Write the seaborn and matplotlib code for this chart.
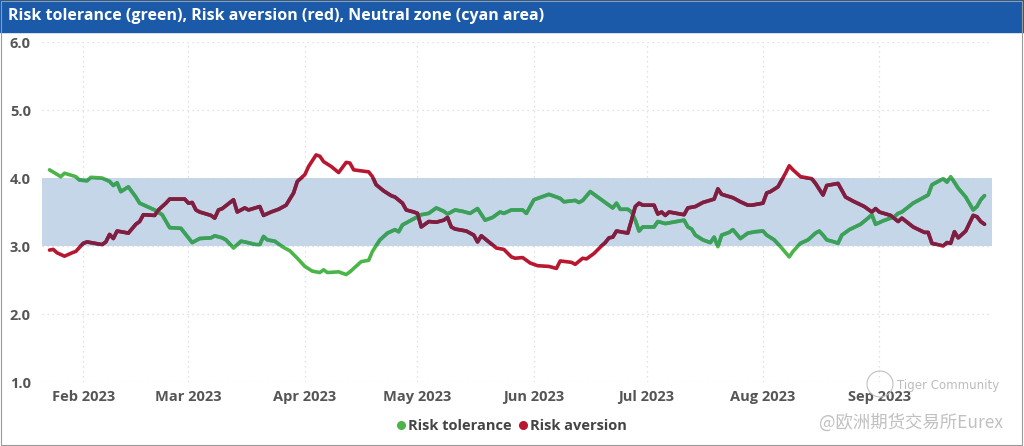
import pandas as pd
import matplotlib.pyplot as plt
import matplotlib.dates as mdates
from matplotlib.patches import Rectangle, Ellipse
from matplotlib.lines import Line2D
import seaborn as sns

# -----------------------------
# Data
# -----------------------------
tolerance_dates = [
    "01-23", "01-26", "01-27", "01-30", "01-31", "02-02", "02-03", "02-06", "02-08", "02-09",
    "02-10", "02-11", "02-13", "02-15", "02-16", "02-18", "02-20", "02-22", "02-24", "02-27",
    "02-28", "03-02", "03-04", "03-07", "03-08", "03-10", "03-11", "03-13", "03-15", "03-16",
    "03-19", "03-20", "03-21", "03-22", "03-24", "03-26", "03-28", "03-30", "04-01", "04-03",
    "04-05", "04-06", "04-07", "04-10", "04-12", "04-13", "04-15", "04-16", "04-18", "04-19",
    "04-21", "04-23", "04-25", "04-26", "04-27", "04-29", "04-30", "05-02", "05-04", "05-06",
    "05-08", "05-09", "05-11", "05-13", "05-15", "05-17", "05-19", "05-21", "05-23", "05-24",
    "05-26", "05-29", "05-30", "06-01", "06-02", "06-05", "06-08", "06-09", "06-12", "06-13",
    "06-14", "06-16", "06-18", "06-20", "06-22", "06-23", "06-24", "06-26", "06-27", "06-28",
    "06-29", "06-30", "07-03", "07-04", "07-06", "07-08", "07-11", "07-12", "07-13", "07-14",
    "07-16", "07-18", "07-19", "07-20", "07-21", "07-23", "07-24", "07-26", "07-28", "07-30",
    "08-01", "08-02", "08-04", "08-06", "08-08", "08-09", "08-11", "08-13", "08-15", "08-16",
    "08-17", "08-18", "08-20", "08-21", "08-22", "08-24", "08-27", "08-29", "08-30", "08-31",
    "09-02", "09-05", "09-06", "09-07", "09-10", "09-13", "09-14", "09-15", "09-18", "09-19",
    "09-20", "09-22", "09-24", "09-26", "09-27", "09-28", "09-29",
]
tolerance_values = [
    4.12, 4.02, 4.07, 4.02, 3.97, 3.96, 4.01, 4.00, 3.95, 3.89,
    3.93, 3.80, 3.87, 3.72, 3.63, 3.58, 3.53, 3.46, 3.27, 3.26,
    3.19, 3.05, 3.11, 3.12, 3.15, 3.12, 3.09, 2.97, 3.07, 3.06,
    3.02, 3.02, 3.14, 3.09, 3.07, 2.99, 2.93, 2.82, 2.70, 2.63,
    2.61, 2.65, 2.61, 2.62, 2.58, 2.62, 2.72, 2.77, 2.79, 2.92,
    3.09, 3.19, 3.24, 3.21, 3.31, 3.37, 3.40, 3.46, 3.48, 3.56,
    3.51, 3.47, 3.53, 3.51, 3.48, 3.55, 3.38, 3.42, 3.50, 3.48,
    3.53, 3.53, 3.48, 3.68, 3.70, 3.76, 3.70, 3.65, 3.67, 3.64,
    3.67, 3.80, 3.72, 3.64, 3.56, 3.63, 3.54, 3.54, 3.50, 3.38,
    3.22, 3.28, 3.28, 3.36, 3.33, 3.35, 3.38, 3.28, 3.25, 3.16,
    3.09, 3.05, 3.13, 2.99, 3.16, 3.20, 3.24, 3.11, 3.19, 3.21,
    3.22, 3.16, 3.09, 2.97, 2.84, 2.92, 3.04, 3.09, 3.19, 3.22,
    3.16, 3.09, 3.06, 3.04, 3.16, 3.24, 3.32, 3.41, 3.46, 3.32,
    3.37, 3.43, 3.48, 3.50, 3.63, 3.72, 3.75, 3.90, 3.99, 3.94,
    4.02, 3.85, 3.72, 3.53, 3.58, 3.68, 3.74,
]

aversion_dates = [
    "01-23", "01-24", "01-25", "01-27", "01-29", "01-30", "02-01", "02-02", "02-06", "02-07",
    "02-08", "02-09", "02-10", "02-13", "02-15", "02-16", "02-17", "02-20", "02-21", "02-23",
    "02-24", "02-28", "03-01", "03-02", "03-03", "03-04", "03-07", "03-08", "03-09", "03-10",
    "03-13", "03-14", "03-16", "03-17", "03-20", "03-21", "03-23", "03-25", "03-27", "03-29",
    "03-30", "04-01", "04-02", "04-04", "04-05", "04-06", "04-08", "04-10", "04-12", "04-13",
    "04-14", "04-18", "04-19", "04-20", "04-22", "04-24", "04-25", "04-27", "04-28", "04-30",
    "05-01", "05-02", "05-04", "05-06", "05-08", "05-09", "05-10", "05-11", "05-14", "05-16",
    "05-17", "05-18", "05-20", "05-22", "05-24", "05-26", "05-27", "05-29", "05-31", "06-02",
    "06-05", "06-07", "06-08", "06-11", "06-12", "06-14", "06-15", "06-17", "06-19", "06-20",
    "06-21", "06-22", "06-23", "06-25", "06-26", "06-27", "06-28", "06-29", "06-30", "07-03",
    "07-04", "07-05", "07-06", "07-07", "07-09", "07-11", "07-12", "07-14", "07-16", "07-19",
    "07-20", "07-21", "07-24", "07-26", "07-28", "07-29", "08-01", "08-02", "08-03", "08-05",
    "08-06", "08-07", "08-08", "08-09", "08-11", "08-14", "08-15", "08-17", "08-18", "08-21",
    "08-23", "08-25", "08-28", "08-30", "08-31", "09-01", "09-04", "09-06", "09-07", "09-10",
    "09-13", "09-14", "09-15", "09-18", "09-19", "09-20", "09-21", "09-22", "09-24", "09-26",
    "09-27", "09-28", "09-29",
]
aversion_values = [
    2.94, 2.95, 2.90, 2.85, 2.90, 2.92, 3.04, 3.06, 3.02, 3.06,
    3.17, 3.11, 3.22, 3.19, 3.32, 3.36, 3.46, 3.45, 3.53, 3.63,
    3.69, 3.69, 3.63, 3.64, 3.53, 3.50, 3.45, 3.41, 3.53, 3.55,
    3.68, 3.50, 3.56, 3.53, 3.58, 3.45, 3.50, 3.54, 3.60, 3.78,
    3.95, 4.05, 4.17, 4.34, 4.32, 4.24, 4.17, 4.08, 4.23, 4.22,
    4.12, 4.09, 4.02, 3.90, 3.81, 3.74, 3.72, 3.63, 3.53, 3.50,
    3.48, 3.28, 3.36, 3.35, 3.38, 3.42, 3.28, 3.25, 3.22, 3.16,
    3.06, 3.15, 3.06, 2.97, 2.95, 2.84, 2.82, 2.83, 2.75, 2.71,
    2.70, 2.67, 2.78, 2.76, 2.73, 2.82, 2.81, 2.89, 3.00, 3.05,
    3.12, 3.13, 3.22, 3.20, 3.19, 3.38, 3.58, 3.63, 3.60, 3.60,
    3.47, 3.50, 3.45, 3.50, 3.48, 3.46, 3.56, 3.58, 3.64, 3.69,
    3.84, 3.76, 3.71, 3.65, 3.60, 3.60, 3.63, 3.78, 3.80, 3.87,
    3.97, 4.07, 4.18, 4.12, 4.02, 3.99, 3.92, 3.75, 3.89, 3.92,
    3.72, 3.66, 3.58, 3.50, 3.55, 3.50, 3.45, 3.36, 3.41, 3.28,
    3.20, 3.20, 3.04, 3.00, 3.05, 3.04, 3.21, 3.12, 3.22, 3.45,
    3.43, 3.36, 3.32,
]

series_names = ["Risk tolerance", "Risk aversion"]
neutral_low, neutral_high = 3.0, 4.0
y_ticks = [1.0, 2.0, 3.0, 4.0, 5.0, 6.0]
title_text = "Risk tolerance (green), Risk aversion (red), Neutral zone (cyan area)"

# colours: normal, and the darker shade where the line passes the neutral zone
colors_out = {"Risk tolerance": "#4cb54a", "Risk aversion": "#b8172f"}
colors_in = {"Risk tolerance": "#3c9f5c", "Risk aversion": "#7c1f42"}
band_color = "#c4d6e8"

df = pd.concat([
    pd.DataFrame({"date": pd.to_datetime(["2023-" + d for d in tolerance_dates]),
                  "value": tolerance_values, "series": series_names[0]}),
    pd.DataFrame({"date": pd.to_datetime(["2023-" + d for d in aversion_dates]),
                  "value": aversion_values, "series": series_names[1]}),
])

# -----------------------------
# Plot
# -----------------------------
sns.set_theme(style="white")
plt.rcParams["font.family"] = ["Open Sans", "DejaVu Sans"]

W, H = 1024, 446
fig = plt.figure(figsize=(W / 100, H / 100), dpi=100)
ax = fig.add_axes([42 / W, 1 - 382 / H, 950 / W, 340 / H])

# neutral zone
band = ax.axhspan(neutral_low, neutral_high, color=band_color, zorder=1, lw=0)

sns.lineplot(data=df, x="date", y="value", hue="series", palette=colors_out,
             linewidth=2.6, ax=ax, legend=False, zorder=3)
n_before = len(ax.lines)
sns.lineplot(data=df, x="date", y="value", hue="series", palette=colors_in,
             linewidth=2.6, ax=ax, legend=False, zorder=4)
for line in ax.lines[n_before:]:
    line.set_clip_path(band)

ax.set_xlim(pd.Timestamp("2023-01-21"), pd.Timestamp("2023-10-01"))
ax.set_ylim(1.0, 6.0)
ax.set_yticks(y_ticks)
ax.set_yticklabels([f"{t:.1f}" for t in y_ticks])
ax.xaxis.set_major_locator(mdates.MonthLocator(bymonth=range(2, 10)))
ax.xaxis.set_major_formatter(mdates.DateFormatter("%b %Y"))

ax.grid(True, color="#d9d9d9", linestyle=(0, (1, 3)), linewidth=0.9, zorder=0)
ax.set_axisbelow(True)
for s in ax.spines.values():
    s.set_visible(False)
ax.tick_params(axis="both", length=0, labelsize=10.5, colors="#555555")
ax.tick_params(axis="y", pad=8)
ax.tick_params(axis="x", pad=6)
for lbl in ax.get_xticklabels() + ax.get_yticklabels():
    lbl.set_fontweight("bold")
ax.set_xlabel("")
ax.set_ylabel("")

# title bar
fig.patches.append(Rectangle((0, 1 - 32 / H), 1, 32 / H, transform=fig.transFigure,
                             color="#1b5aa8", zorder=0))
fig.text(8 / W, 1 - 16 / H, title_text, color="white", fontsize=11.5,
         fontweight="bold", va="center", ha="left")

# outer frame
fig.patches.append(Rectangle((1 / W, 1 / H), 1 - 3 / W, 1 - 2 / H, transform=fig.transFigure,
                             fill=False, edgecolor="#9a9a9a", lw=0.8, zorder=5))

# legend
handles = [Line2D([], [], marker="o", linestyle="", markersize=5.5,
                  color=colors_out[name]) for name in series_names]
leg = fig.legend(handles, series_names, loc="center", bbox_to_anchor=(511 / W, 1 - 426 / H),
                 ncol=2, frameon=False, handletextpad=0.1, columnspacing=0.4,
                 handlelength=0.8, fontsize=10.5)
for t in leg.get_texts():
    t.set_fontweight("bold")
    t.set_color("#444444")

# watermark
fig.patches.append(Ellipse((880 / W, 1 - 384 / H), 26 / W, 26 / H, transform=fig.transFigure,
                           fill=False, edgecolor="#c0c0c0", lw=0.8, zorder=6))
fig.text(897 / W, 1 - 385 / H, "Tiger Community", color="#bdbdbd", fontsize=8.5,
         va="center", ha="left", family=["DejaVu Sans"])
fig.text(1003 / W, 1 - 423 / H, "@欧洲期货交易所Eurex", color="#c0c0c0", fontsize=12.5,
         va="center", ha="right", family=["Noto Sans CJK SC", "DejaVu Sans"])

fig.savefig("out.png", dpi=100)
